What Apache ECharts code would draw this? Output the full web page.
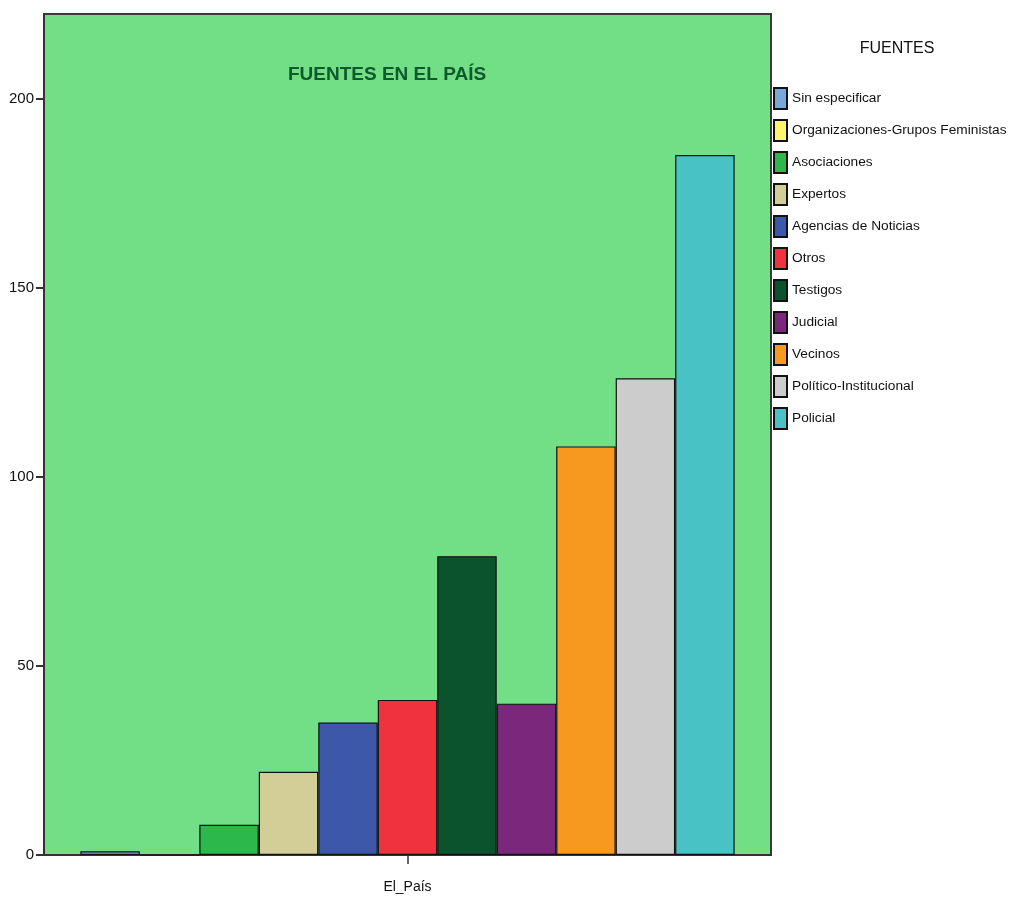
<!DOCTYPE html>
<html>
<head>
<meta charset="utf-8">
<script src="https://cdn.jsdelivr.net/npm/echarts@6/dist/echarts.min.js"></script>
<style>html,body{margin:0;padding:0;background:#fff}#chart{width:1011px;height:902px}</style>
</head>
<body>
<div id="chart"></div>
<script>
const categories = ['El_País'];
const seriesNames = ['Sin especificar','Organizaciones-Grupos Feministas','Asociaciones','Expertos','Agencias de Noticias','Otros','Testigos','Judicial','Vecinos','Político-Institucional','Policial'];
const seriesValues = [1, 0, 8, 22, 35, 41, 79, 40, 108, 126, 185];
const seriesColors = ['#79a8d8','#fbf66c','#2db84b','#d3cd97','#3d58a8','#ef323d','#0a532d','#7b287c','#f7991f','#cccccc','#48c2c5'];
const yTicks = [0, 50, 100, 150, 200];

const FONT = '"Liberation Sans", Arial, sans-serif';
const chart = echarts.init(document.getElementById('chart'), null, {renderer: 'canvas'});
chart.setOption({
  animation: false,
  backgroundColor: '#ffffff',
  title: [
    {text: 'FUENTES EN EL PAÍS', left: 283, top: 60,
     textStyle: {fontFamily: FONT, fontSize: 19, fontWeight: 'bold', color: '#0d5a2c'}},
    {text: 'FUENTES', left: 892, top: 36, textAlign: 'center',
     textStyle: {fontFamily: FONT, fontSize: 16, fontWeight: 'normal', color: '#111'}}
  ],
  legend: {
    orient: 'vertical', left: 768, top: 82,
    itemWidth: 13, itemHeight: 21, itemGap: 9,
    icon: 'rect',
    textStyle: {fontFamily: FONT, fontSize: 13.7, color: '#111'},
    data: seriesNames
  },
  grid: {left: 44, right: 240, top: 14, bottom: 47, show: true,
         backgroundColor: '#72de86', borderColor: '#3a3a3a', borderWidth: 2},
  xAxis: {
    type: 'category', data: categories,
    axisLine: {lineStyle: {color: '#333', width: 2}},
    axisTick: {show: true, alignWithLabel: true, length: 9, lineStyle: {color: '#333', width: 1.5}},
    axisLabel: {fontFamily: FONT, fontSize: 14, color: '#111', margin: 25}
  },
  yAxis: {
    type: 'value', min: 0, max: 222.3, interval: 50,
    splitLine: {show: false},
    axisLine: {show: true, lineStyle: {color: '#333', width: 2}},
    axisTick: {show: true, length: 8, customValues: yTicks, lineStyle: {color: '#333', width: 2}},
    axisLabel: {fontFamily: FONT, fontSize: 15, color: '#111', margin: 10, customValues: yTicks}
  },
  series: seriesNames.map((name, i) => ({
    name: name, type: 'bar', data: [seriesValues[i]],
    barGap: '0%', barCategoryGap: '10%',
    itemStyle: {color: seriesColors[i], borderColor: '#111', borderWidth: 1.2}
  }))
});
</script>
</body>
</html>
